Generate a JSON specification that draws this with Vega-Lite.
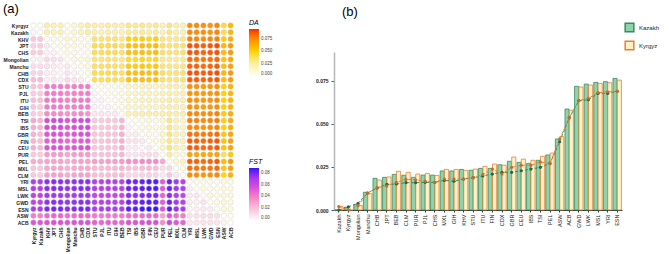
{
  "$schema": "https://vega.github.io/schema/vega-lite/v6.json",
  "background": "white",
  "padding": {"left": 3, "top": 3, "right": 0, "bottom": 0},
  "config": {
    "font": "Liberation Sans",
    "view": {"stroke": null},
    "axis": {"grid": false}
  },
  "datasets": {
    "m": [
      {"r":"Kyrgyz","c":"Kyrgyz","d":0},{"r":"Kyrgyz","c":"Kazakh","d":0.0021},{"r":"Kyrgyz","c":"KHV","d":0.0231},{"r":"Kyrgyz","c":"JPT","d":0.0192},{"r":"Kyrgyz","c":"CHS","d":0.0201},{"r":"Kyrgyz","c":"Mongolian","d":0.0027},{"r":"Kyrgyz","c":"Manchu","d":0.0095},{"r":"Kyrgyz","c":"CHB","d":0.0174},{"r":"Kyrgyz","c":"CDX","d":0.026},{"r":"Kyrgyz","c":"STU","d":0.0238},{"r":"Kyrgyz","c":"PJL","d":0.0213},{"r":"Kyrgyz","c":"ITU","d":0.0254},{"r":"Kyrgyz","c":"GIH","d":0.0236},{"r":"Kyrgyz","c":"BEB","d":0.0225},{"r":"Kyrgyz","c":"TSI","d":0.0312},{"r":"Kyrgyz","c":"IBS","d":0.0289},{"r":"Kyrgyz","c":"GBR","d":0.0308},{"r":"Kyrgyz","c":"FIN","d":0.0267},{"r":"Kyrgyz","c":"CEU","d":0.0296},{"r":"Kyrgyz","c":"PUR","d":0.0209},{"r":"Kyrgyz","c":"PEL","d":0.0331},{"r":"Kyrgyz","c":"MXL","d":0.0236},{"r":"Kyrgyz","c":"CLM","d":0.0219},{"r":"Kyrgyz","c":"YRI","d":0.074},{"r":"Kyrgyz","c":"MSL","d":0.0736},{"r":"Kyrgyz","c":"LWK","d":0.0726},{"r":"Kyrgyz","c":"GWD","d":0.0715},{"r":"Kyrgyz","c":"ESN","d":0.0755},{"r":"Kyrgyz","c":"ASW","d":0.0426},{"r":"Kyrgyz","c":"ACB","d":0.058},

      {"r":"Kazakh","c":"Kyrgyz","f":0.0018},{"r":"Kazakh","c":"Kazakh","d":0},{"r":"Kazakh","c":"KHV","d":0.0236},{"r":"Kazakh","c":"JPT","d":0.019},{"r":"Kazakh","c":"CHS","d":0.0203},{"r":"Kazakh","c":"Mongolian","d":0.0031},{"r":"Kazakh","c":"Manchu","d":0.0103},{"r":"Kazakh","c":"CHB","d":0.0184},{"r":"Kazakh","c":"CDX","d":0.0263},{"r":"Kazakh","c":"STU","d":0.0231},{"r":"Kazakh","c":"PJL","d":0.0203},{"r":"Kazakh","c":"ITU","d":0.0242},{"r":"Kazakh","c":"GIH","d":0.0227},{"r":"Kazakh","c":"BEB","d":0.0207},{"r":"Kazakh","c":"TSI","d":0.0289},{"r":"Kazakh","c":"IBS","d":0.0271},{"r":"Kazakh","c":"GBR","d":0.0283},{"r":"Kazakh","c":"FIN","d":0.0242},{"r":"Kazakh","c":"CEU","d":0.0277},{"r":"Kazakh","c":"PUR","d":0.019},{"r":"Kazakh","c":"PEL","d":0.032},{"r":"Kazakh","c":"MXL","d":0.0227},{"r":"Kazakh","c":"CLM","d":0.0202},{"r":"Kazakh","c":"YRI","d":0.0746},{"r":"Kazakh","c":"MSL","d":0.0742},{"r":"Kazakh","c":"LWK","d":0.0732},{"r":"Kazakh","c":"GWD","d":0.0719},{"r":"Kazakh","c":"ESN","d":0.0765},{"r":"Kazakh","c":"ASW","d":0.0413},{"r":"Kazakh","c":"ACB","d":0.0587},

      {"r":"KHV","c":"Kyrgyz","f":0.018},{"r":"KHV","c":"Kazakh","f":0.018},{"r":"KHV","c":"KHV","d":0},{"r":"KHV","c":"JPT","d":0.0062},{"r":"KHV","c":"CHS","d":0.0041},{"r":"KHV","c":"Mongolian","d":0.0118},{"r":"KHV","c":"Manchu","d":0.0083},{"r":"KHV","c":"CHB","d":0.0039},{"r":"KHV","c":"CDX","d":0.0032},{"r":"KHV","c":"STU","d":0.0352},{"r":"KHV","c":"PJL","d":0.0347},{"r":"KHV","c":"ITU","d":0.0361},{"r":"KHV","c":"GIH","d":0.0356},{"r":"KHV","c":"BEB","d":0.0318},{"r":"KHV","c":"TSI","d":0.0482},{"r":"KHV","c":"IBS","d":0.0476},{"r":"KHV","c":"GBR","d":0.0497},{"r":"KHV","c":"FIN","d":0.0465},{"r":"KHV","c":"CEU","d":0.0491},{"r":"KHV","c":"PUR","d":0.0322},{"r":"KHV","c":"PEL","d":0.0305},{"r":"KHV","c":"MXL","d":0.0298},{"r":"KHV","c":"CLM","d":0.0311},{"r":"KHV","c":"YRI","d":0.0768},{"r":"KHV","c":"MSL","d":0.0761},{"r":"KHV","c":"LWK","d":0.0742},{"r":"KHV","c":"GWD","d":0.0755},{"r":"KHV","c":"ESN","d":0.0779},{"r":"KHV","c":"ASW","d":0.0512},{"r":"KHV","c":"ACB","d":0.0624},

      {"r":"JPT","c":"Kyrgyz","f":0.0139},{"r":"JPT","c":"Kazakh","f":0.0149},{"r":"JPT","c":"KHV","f":0.0061},{"r":"JPT","c":"JPT","d":0},{"r":"JPT","c":"CHS","d":0.0035},{"r":"JPT","c":"Mongolian","d":0.0092},{"r":"JPT","c":"Manchu","d":0.0052},{"r":"JPT","c":"CHB","d":0.0038},{"r":"JPT","c":"CDX","d":0.0071},{"r":"JPT","c":"STU","d":0.0412},{"r":"JPT","c":"PJL","d":0.0405},{"r":"JPT","c":"ITU","d":0.0421},{"r":"JPT","c":"GIH","d":0.0415},{"r":"JPT","c":"BEB","d":0.0372},{"r":"JPT","c":"TSI","d":0.0558},{"r":"JPT","c":"IBS","d":0.0551},{"r":"JPT","c":"GBR","d":0.0573},{"r":"JPT","c":"FIN","d":0.0542},{"r":"JPT","c":"CEU","d":0.0566},{"r":"JPT","c":"PUR","d":0.0384},{"r":"JPT","c":"PEL","d":0.0356},{"r":"JPT","c":"MXL","d":0.0352},{"r":"JPT","c":"CLM","d":0.0368},{"r":"JPT","c":"YRI","d":0.0882},{"r":"JPT","c":"MSL","d":0.0875},{"r":"JPT","c":"LWK","d":0.0851},{"r":"JPT","c":"GWD","d":0.0868},{"r":"JPT","c":"ESN","d":0.0893},{"r":"JPT","c":"ASW","d":0.0585},{"r":"JPT","c":"ACB","d":0.0702},

      {"r":"CHS","c":"Kyrgyz","f":0.0161},{"r":"CHS","c":"Kazakh","f":0.0161},{"r":"CHS","c":"KHV","f":0.0042},{"r":"CHS","c":"JPT","f":0.0036},{"r":"CHS","c":"CHS","d":0},{"r":"CHS","c":"Mongolian","d":0.0081},{"r":"CHS","c":"Manchu","d":0.0033},{"r":"CHS","c":"CHB","d":0.0011},{"r":"CHS","c":"CDX","d":0.0045},{"r":"CHS","c":"STU","d":0.0405},{"r":"CHS","c":"PJL","d":0.0398},{"r":"CHS","c":"ITU","d":0.0414},{"r":"CHS","c":"GIH","d":0.0408},{"r":"CHS","c":"BEB","d":0.0365},{"r":"CHS","c":"TSI","d":0.0549},{"r":"CHS","c":"IBS","d":0.0542},{"r":"CHS","c":"GBR","d":0.0565},{"r":"CHS","c":"FIN","d":0.0531},{"r":"CHS","c":"CEU","d":0.0557},{"r":"CHS","c":"PUR","d":0.0377},{"r":"CHS","c":"PEL","d":0.0349},{"r":"CHS","c":"MXL","d":0.0345},{"r":"CHS","c":"CLM","d":0.0361},{"r":"CHS","c":"YRI","d":0.0874},{"r":"CHS","c":"MSL","d":0.0867},{"r":"CHS","c":"LWK","d":0.0843},{"r":"CHS","c":"GWD","d":0.086},{"r":"CHS","c":"ESN","d":0.0886},{"r":"CHS","c":"ASW","d":0.0578},{"r":"CHS","c":"ACB","d":0.0694},

      {"r":"Mongolian","c":"Kyrgyz","f":0.0025},{"r":"Mongolian","c":"Kazakh","f":0.0039},{"r":"Mongolian","c":"KHV","f":0.0121},{"r":"Mongolian","c":"JPT","f":0.0094},{"r":"Mongolian","c":"CHS","f":0.0083},{"r":"Mongolian","c":"Mongolian","d":0},{"r":"Mongolian","c":"Manchu","d":0.0062},{"r":"Mongolian","c":"CHB","d":0.0079},{"r":"Mongolian","c":"CDX","d":0.0118},{"r":"Mongolian","c":"STU","d":0.0335},{"r":"Mongolian","c":"PJL","d":0.0327},{"r":"Mongolian","c":"ITU","d":0.0341},{"r":"Mongolian","c":"GIH","d":0.0334},{"r":"Mongolian","c":"BEB","d":0.0301},{"r":"Mongolian","c":"TSI","d":0.0448},{"r":"Mongolian","c":"IBS","d":0.0441},{"r":"Mongolian","c":"GBR","d":0.0462},{"r":"Mongolian","c":"FIN","d":0.0428},{"r":"Mongolian","c":"CEU","d":0.0455},{"r":"Mongolian","c":"PUR","d":0.0305},{"r":"Mongolian","c":"PEL","d":0.0282},{"r":"Mongolian","c":"MXL","d":0.0277},{"r":"Mongolian","c":"CLM","d":0.029},{"r":"Mongolian","c":"YRI","d":0.0822},{"r":"Mongolian","c":"MSL","d":0.0815},{"r":"Mongolian","c":"LWK","d":0.0791},{"r":"Mongolian","c":"GWD","d":0.0808},{"r":"Mongolian","c":"ESN","d":0.0834},{"r":"Mongolian","c":"ASW","d":0.0535},{"r":"Mongolian","c":"ACB","d":0.0648},

      {"r":"Manchu","c":"Kyrgyz","f":0.0099},{"r":"Manchu","c":"Kazakh","f":0.0099},{"r":"Manchu","c":"KHV","f":0.0085},{"r":"Manchu","c":"JPT","f":0.0054},{"r":"Manchu","c":"CHS","f":0.0034},{"r":"Manchu","c":"Mongolian","f":0.0063},{"r":"Manchu","c":"Manchu","d":0},{"r":"Manchu","c":"CHB","d":0.0031},{"r":"Manchu","c":"CDX","d":0.0082},{"r":"Manchu","c":"STU","d":0.0378},{"r":"Manchu","c":"PJL","d":0.0371},{"r":"Manchu","c":"ITU","d":0.0386},{"r":"Manchu","c":"GIH","d":0.0379},{"r":"Manchu","c":"BEB","d":0.0342},{"r":"Manchu","c":"TSI","d":0.0505},{"r":"Manchu","c":"IBS","d":0.0498},{"r":"Manchu","c":"GBR","d":0.0521},{"r":"Manchu","c":"FIN","d":0.0487},{"r":"Manchu","c":"CEU","d":0.0512},{"r":"Manchu","c":"PUR","d":0.0345},{"r":"Manchu","c":"PEL","d":0.0318},{"r":"Manchu","c":"MXL","d":0.0314},{"r":"Manchu","c":"CLM","d":0.0329},{"r":"Manchu","c":"YRI","d":0.0851},{"r":"Manchu","c":"MSL","d":0.0844},{"r":"Manchu","c":"LWK","d":0.082},{"r":"Manchu","c":"GWD","d":0.0837},{"r":"Manchu","c":"ESN","d":0.0863},{"r":"Manchu","c":"ASW","d":0.0556},{"r":"Manchu","c":"ACB","d":0.0671},

      {"r":"CHB","c":"Kyrgyz","f":0.013},{"r":"CHB","c":"Kazakh","f":0.0128},{"r":"CHB","c":"KHV","f":0.004},{"r":"CHB","c":"JPT","f":0.0039},{"r":"CHB","c":"CHS","f":0.0012},{"r":"CHB","c":"Mongolian","f":0.008},{"r":"CHB","c":"Manchu","f":0.0032},{"r":"CHB","c":"CHB","d":0},{"r":"CHB","c":"CDX","d":0.0049},{"r":"CHB","c":"STU","d":0.0414},{"r":"CHB","c":"PJL","d":0.0407},{"r":"CHB","c":"ITU","d":0.0423},{"r":"CHB","c":"GIH","d":0.0417},{"r":"CHB","c":"BEB","d":0.0374},{"r":"CHB","c":"TSI","d":0.0561},{"r":"CHB","c":"IBS","d":0.0554},{"r":"CHB","c":"GBR","d":0.0576},{"r":"CHB","c":"FIN","d":0.0545},{"r":"CHB","c":"CEU","d":0.0569},{"r":"CHB","c":"PUR","d":0.0386},{"r":"CHB","c":"PEL","d":0.0358},{"r":"CHB","c":"MXL","d":0.0354},{"r":"CHB","c":"CLM","d":0.037},{"r":"CHB","c":"YRI","d":0.0885},{"r":"CHB","c":"MSL","d":0.0878},{"r":"CHB","c":"LWK","d":0.0854},{"r":"CHB","c":"GWD","d":0.0871},{"r":"CHB","c":"ESN","d":0.0896},{"r":"CHB","c":"ASW","d":0.0587},{"r":"CHB","c":"ACB","d":0.0704},

      {"r":"CDX","c":"Kyrgyz","f":0.0209},{"r":"CDX","c":"Kazakh","f":0.0219},{"r":"CDX","c":"KHV","f":0.0033},{"r":"CDX","c":"JPT","f":0.0072},{"r":"CDX","c":"CHS","f":0.0046},{"r":"CDX","c":"Mongolian","f":0.012},{"r":"CDX","c":"Manchu","f":0.0083},{"r":"CDX","c":"CHB","f":0.005},{"r":"CDX","c":"CDX","d":0},{"r":"CDX","c":"STU","d":0.0401},{"r":"CDX","c":"PJL","d":0.0394},{"r":"CDX","c":"ITU","d":0.041},{"r":"CDX","c":"GIH","d":0.0404},{"r":"CDX","c":"BEB","d":0.0355},{"r":"CDX","c":"TSI","d":0.0546},{"r":"CDX","c":"IBS","d":0.0539},{"r":"CDX","c":"GBR","d":0.0562},{"r":"CDX","c":"FIN","d":0.0529},{"r":"CDX","c":"CEU","d":0.0554},{"r":"CDX","c":"PUR","d":0.0375},{"r":"CDX","c":"PEL","d":0.0351},{"r":"CDX","c":"MXL","d":0.0346},{"r":"CDX","c":"CLM","d":0.036},{"r":"CDX","c":"YRI","d":0.0866},{"r":"CDX","c":"MSL","d":0.0859},{"r":"CDX","c":"LWK","d":0.0834},{"r":"CDX","c":"GWD","d":0.0851},{"r":"CDX","c":"ESN","d":0.0878},{"r":"CDX","c":"ASW","d":0.0571},{"r":"CDX","c":"ACB","d":0.0688},

      {"r":"STU","c":"Kyrgyz","f":0.0188},{"r":"STU","c":"Kazakh","f":0.0188},{"r":"STU","c":"KHV","f":0.0412},{"r":"STU","c":"JPT","f":0.0418},{"r":"STU","c":"CHS","f":0.0415},{"r":"STU","c":"Mongolian","f":0.0385},{"r":"STU","c":"Manchu","f":0.0402},{"r":"STU","c":"CHB","f":0.0416},{"r":"STU","c":"CDX","f":0.0409},{"r":"STU","c":"STU","d":0},{"r":"STU","c":"PJL","d":0.0021},{"r":"STU","c":"ITU","d":0.0018},{"r":"STU","c":"GIH","d":0.0024},{"r":"STU","c":"BEB","d":0.0062},{"r":"STU","c":"TSI","d":0.0148},{"r":"STU","c":"IBS","d":0.0152},{"r":"STU","c":"GBR","d":0.0165},{"r":"STU","c":"FIN","d":0.0172},{"r":"STU","c":"CEU","d":0.0161},{"r":"STU","c":"PUR","d":0.0198},{"r":"STU","c":"PEL","d":0.0248},{"r":"STU","c":"MXL","d":0.0221},{"r":"STU","c":"CLM","d":0.0212},{"r":"STU","c":"YRI","d":0.0725},{"r":"STU","c":"MSL","d":0.0718},{"r":"STU","c":"LWK","d":0.0695},{"r":"STU","c":"GWD","d":0.0711},{"r":"STU","c":"ESN","d":0.0736},{"r":"STU","c":"ASW","d":0.0488},{"r":"STU","c":"ACB","d":0.0602},

      {"r":"PJL","c":"Kyrgyz","f":0.0168},{"r":"PJL","c":"Kazakh","f":0.0161},{"r":"PJL","c":"KHV","f":0.0405},{"r":"PJL","c":"JPT","f":0.0411},{"r":"PJL","c":"CHS","f":0.0408},{"r":"PJL","c":"Mongolian","f":0.0378},{"r":"PJL","c":"Manchu","f":0.0395},{"r":"PJL","c":"CHB","f":0.0409},{"r":"PJL","c":"CDX","f":0.0402},{"r":"PJL","c":"STU","f":0.0022},{"r":"PJL","c":"PJL","d":0},{"r":"PJL","c":"ITU","d":0.0025},{"r":"PJL","c":"GIH","d":0.0019},{"r":"PJL","c":"BEB","d":0.0068},{"r":"PJL","c":"TSI","d":0.0139},{"r":"PJL","c":"IBS","d":0.0143},{"r":"PJL","c":"GBR","d":0.0156},{"r":"PJL","c":"FIN","d":0.0164},{"r":"PJL","c":"CEU","d":0.0152},{"r":"PJL","c":"PUR","d":0.019},{"r":"PJL","c":"PEL","d":0.024},{"r":"PJL","c":"MXL","d":0.0213},{"r":"PJL","c":"CLM","d":0.0204},{"r":"PJL","c":"YRI","d":0.0718},{"r":"PJL","c":"MSL","d":0.0711},{"r":"PJL","c":"LWK","d":0.0688},{"r":"PJL","c":"GWD","d":0.0704},{"r":"PJL","c":"ESN","d":0.0729},{"r":"PJL","c":"ASW","d":0.0481},{"r":"PJL","c":"ACB","d":0.0595},

      {"r":"ITU","c":"Kyrgyz","f":0.0207},{"r":"ITU","c":"Kazakh","f":0.0198},{"r":"ITU","c":"KHV","f":0.0419},{"r":"ITU","c":"JPT","f":0.0425},{"r":"ITU","c":"CHS","f":0.0422},{"r":"ITU","c":"Mongolian","f":0.0392},{"r":"ITU","c":"Manchu","f":0.0409},{"r":"ITU","c":"CHB","f":0.0423},{"r":"ITU","c":"CDX","f":0.0414},{"r":"ITU","c":"STU","f":0.0019},{"r":"ITU","c":"PJL","f":0.0026},{"r":"ITU","c":"ITU","d":0},{"r":"ITU","c":"GIH","d":0.0022},{"r":"ITU","c":"BEB","d":0.0058},{"r":"ITU","c":"TSI","d":0.0156},{"r":"ITU","c":"IBS","d":0.016},{"r":"ITU","c":"GBR","d":0.0173},{"r":"ITU","c":"FIN","d":0.0181},{"r":"ITU","c":"CEU","d":0.0169},{"r":"ITU","c":"PUR","d":0.0205},{"r":"ITU","c":"PEL","d":0.0256},{"r":"ITU","c":"MXL","d":0.0229},{"r":"ITU","c":"CLM","d":0.022},{"r":"ITU","c":"YRI","d":0.0731},{"r":"ITU","c":"MSL","d":0.0724},{"r":"ITU","c":"LWK","d":0.0701},{"r":"ITU","c":"GWD","d":0.0717},{"r":"ITU","c":"ESN","d":0.0742},{"r":"ITU","c":"ASW","d":0.0494},{"r":"ITU","c":"ACB","d":0.0608},

      {"r":"GIH","c":"Kyrgyz","f":0.018},{"r":"GIH","c":"Kazakh","f":0.0167},{"r":"GIH","c":"KHV","f":0.0414},{"r":"GIH","c":"JPT","f":0.042},{"r":"GIH","c":"CHS","f":0.0417},{"r":"GIH","c":"Mongolian","f":0.0387},{"r":"GIH","c":"Manchu","f":0.0404},{"r":"GIH","c":"CHB","f":0.0418},{"r":"GIH","c":"CDX","f":0.0411},{"r":"GIH","c":"STU","f":0.0025},{"r":"GIH","c":"PJL","f":0.002},{"r":"GIH","c":"ITU","f":0.0023},{"r":"GIH","c":"GIH","d":0},{"r":"GIH","c":"BEB","d":0.0065},{"r":"GIH","c":"TSI","d":0.0145},{"r":"GIH","c":"IBS","d":0.0149},{"r":"GIH","c":"GBR","d":0.0162},{"r":"GIH","c":"FIN","d":0.017},{"r":"GIH","c":"CEU","d":0.0158},{"r":"GIH","c":"PUR","d":0.0195},{"r":"GIH","c":"PEL","d":0.0245},{"r":"GIH","c":"MXL","d":0.0218},{"r":"GIH","c":"CLM","d":0.0209},{"r":"GIH","c":"YRI","d":0.0722},{"r":"GIH","c":"MSL","d":0.0715},{"r":"GIH","c":"LWK","d":0.0692},{"r":"GIH","c":"GWD","d":0.0708},{"r":"GIH","c":"ESN","d":0.0733},{"r":"GIH","c":"ASW","d":0.0485},{"r":"GIH","c":"ACB","d":0.0599},

      {"r":"BEB","c":"Kyrgyz","f":0.0161},{"r":"BEB","c":"Kazakh","f":0.0151},{"r":"BEB","c":"KHV","f":0.0362},{"r":"BEB","c":"JPT","f":0.0371},{"r":"BEB","c":"CHS","f":0.0366},{"r":"BEB","c":"Mongolian","f":0.0341},{"r":"BEB","c":"Manchu","f":0.0356},{"r":"BEB","c":"CHB","f":0.0369},{"r":"BEB","c":"CDX","f":0.0342},{"r":"BEB","c":"STU","f":0.0063},{"r":"BEB","c":"PJL","f":0.0069},{"r":"BEB","c":"ITU","f":0.0059},{"r":"BEB","c":"GIH","f":0.0066},{"r":"BEB","c":"BEB","d":0},{"r":"BEB","c":"TSI","d":0.0212},{"r":"BEB","c":"IBS","d":0.0218},{"r":"BEB","c":"GBR","d":0.0231},{"r":"BEB","c":"FIN","d":0.0236},{"r":"BEB","c":"CEU","d":0.0227},{"r":"BEB","c":"PUR","d":0.0238},{"r":"BEB","c":"PEL","d":0.0262},{"r":"BEB","c":"MXL","d":0.0241},{"r":"BEB","c":"CLM","d":0.0235},{"r":"BEB","c":"YRI","d":0.0758},{"r":"BEB","c":"MSL","d":0.0751},{"r":"BEB","c":"LWK","d":0.0728},{"r":"BEB","c":"GWD","d":0.0744},{"r":"BEB","c":"ESN","d":0.0769},{"r":"BEB","c":"ASW","d":0.0512},{"r":"BEB","c":"ACB","d":0.0625},

      {"r":"TSI","c":"Kyrgyz","f":0.0279},{"r":"TSI","c":"Kazakh","f":0.0248},{"r":"TSI","c":"KHV","f":0.0582},{"r":"TSI","c":"JPT","f":0.0591},{"r":"TSI","c":"CHS","f":0.0587},{"r":"TSI","c":"Mongolian","f":0.0538},{"r":"TSI","c":"Manchu","f":0.0569},{"r":"TSI","c":"CHB","f":0.059},{"r":"TSI","c":"CDX","f":0.0584},{"r":"TSI","c":"STU","f":0.0172},{"r":"TSI","c":"PJL","f":0.0165},{"r":"TSI","c":"ITU","f":0.0178},{"r":"TSI","c":"GIH","f":0.0169},{"r":"TSI","c":"BEB","f":0.0241},{"r":"TSI","c":"TSI","d":0},{"r":"TSI","c":"IBS","d":0.0021},{"r":"TSI","c":"GBR","d":0.0048},{"r":"TSI","c":"FIN","d":0.0085},{"r":"TSI","c":"CEU","d":0.0052},{"r":"TSI","c":"PUR","d":0.0132},{"r":"TSI","c":"PEL","d":0.0318},{"r":"TSI","c":"MXL","d":0.0209},{"r":"TSI","c":"CLM","d":0.0158},{"r":"TSI","c":"YRI","d":0.0772},{"r":"TSI","c":"MSL","d":0.0765},{"r":"TSI","c":"LWK","d":0.0738},{"r":"TSI","c":"GWD","d":0.0758},{"r":"TSI","c":"ESN","d":0.0785},{"r":"TSI","c":"ASW","d":0.0498},{"r":"TSI","c":"ACB","d":0.0628},

      {"r":"IBS","c":"Kyrgyz","f":0.026},{"r":"IBS","c":"Kazakh","f":0.0238},{"r":"IBS","c":"KHV","f":0.0575},{"r":"IBS","c":"JPT","f":0.0584},{"r":"IBS","c":"CHS","f":0.058},{"r":"IBS","c":"Mongolian","f":0.0531},{"r":"IBS","c":"Manchu","f":0.0562},{"r":"IBS","c":"CHB","f":0.0583},{"r":"IBS","c":"CDX","f":0.0577},{"r":"IBS","c":"STU","f":0.0176},{"r":"IBS","c":"PJL","f":0.0169},{"r":"IBS","c":"ITU","f":0.0182},{"r":"IBS","c":"GIH","f":0.0173},{"r":"IBS","c":"BEB","f":0.0245},{"r":"IBS","c":"TSI","f":0.0022},{"r":"IBS","c":"IBS","d":0},{"r":"IBS","c":"GBR","d":0.0051},{"r":"IBS","c":"FIN","d":0.0089},{"r":"IBS","c":"CEU","d":0.0055},{"r":"IBS","c":"PUR","d":0.0125},{"r":"IBS","c":"PEL","d":0.0311},{"r":"IBS","c":"MXL","d":0.0202},{"r":"IBS","c":"CLM","d":0.0151},{"r":"IBS","c":"YRI","d":0.0748},{"r":"IBS","c":"MSL","d":0.0741},{"r":"IBS","c":"LWK","d":0.0715},{"r":"IBS","c":"GWD","d":0.0735},{"r":"IBS","c":"ESN","d":0.0761},{"r":"IBS","c":"ASW","d":0.0482},{"r":"IBS","c":"ACB","d":0.061},

      {"r":"GBR","c":"Kyrgyz","f":0.0248},{"r":"GBR","c":"Kazakh","f":0.0219},{"r":"GBR","c":"KHV","f":0.0545},{"r":"GBR","c":"JPT","f":0.0553},{"r":"GBR","c":"CHS","f":0.055},{"r":"GBR","c":"Mongolian","f":0.0503},{"r":"GBR","c":"Manchu","f":0.0532},{"r":"GBR","c":"CHB","f":0.0552},{"r":"GBR","c":"CDX","f":0.0548},{"r":"GBR","c":"STU","f":0.0188},{"r":"GBR","c":"PJL","f":0.0181},{"r":"GBR","c":"ITU","f":0.0194},{"r":"GBR","c":"GIH","f":0.0185},{"r":"GBR","c":"BEB","f":0.0256},{"r":"GBR","c":"TSI","f":0.0046},{"r":"GBR","c":"IBS","f":0.005},{"r":"GBR","c":"GBR","d":0},{"r":"GBR","c":"FIN","d":0.0062},{"r":"GBR","c":"CEU","d":0.0012},{"r":"GBR","c":"PUR","d":0.0148},{"r":"GBR","c":"PEL","d":0.0336},{"r":"GBR","c":"MXL","d":0.0225},{"r":"GBR","c":"CLM","d":0.0172},{"r":"GBR","c":"YRI","d":0.0815},{"r":"GBR","c":"MSL","d":0.0808},{"r":"GBR","c":"LWK","d":0.0782},{"r":"GBR","c":"GWD","d":0.0801},{"r":"GBR","c":"ESN","d":0.0828},{"r":"GBR","c":"ASW","d":0.0521},{"r":"GBR","c":"ACB","d":0.0652},

      {"r":"FIN","c":"Kyrgyz","f":0.0238},{"r":"FIN","c":"Kazakh","f":0.0209},{"r":"FIN","c":"KHV","f":0.0512},{"r":"FIN","c":"JPT","f":0.0521},{"r":"FIN","c":"CHS","f":0.0518},{"r":"FIN","c":"Mongolian","f":0.0468},{"r":"FIN","c":"Manchu","f":0.0499},{"r":"FIN","c":"CHB","f":0.052},{"r":"FIN","c":"CDX","f":0.0516},{"r":"FIN","c":"STU","f":0.0195},{"r":"FIN","c":"PJL","f":0.0188},{"r":"FIN","c":"ITU","f":0.0201},{"r":"FIN","c":"GIH","f":0.0192},{"r":"FIN","c":"BEB","f":0.0262},{"r":"FIN","c":"TSI","f":0.0082},{"r":"FIN","c":"IBS","f":0.0087},{"r":"FIN","c":"GBR","f":0.0061},{"r":"FIN","c":"FIN","d":0},{"r":"FIN","c":"CEU","d":0.0058},{"r":"FIN","c":"PUR","d":0.0161},{"r":"FIN","c":"PEL","d":0.0325},{"r":"FIN","c":"MXL","d":0.0232},{"r":"FIN","c":"CLM","d":0.0183},{"r":"FIN","c":"YRI","d":0.0862},{"r":"FIN","c":"MSL","d":0.0855},{"r":"FIN","c":"LWK","d":0.0828},{"r":"FIN","c":"GWD","d":0.0848},{"r":"FIN","c":"ESN","d":0.0875},{"r":"FIN","c":"ASW","d":0.0538},{"r":"FIN","c":"ACB","d":0.0671},

      {"r":"CEU","c":"Kyrgyz","f":0.026},{"r":"CEU","c":"Kazakh","f":0.0228},{"r":"CEU","c":"KHV","f":0.0548},{"r":"CEU","c":"JPT","f":0.0556},{"r":"CEU","c":"CHS","f":0.0553},{"r":"CEU","c":"Mongolian","f":0.0506},{"r":"CEU","c":"Manchu","f":0.0535},{"r":"CEU","c":"CHB","f":0.0555},{"r":"CEU","c":"CDX","f":0.0551},{"r":"CEU","c":"STU","f":0.0186},{"r":"CEU","c":"PJL","f":0.0179},{"r":"CEU","c":"ITU","f":0.0192},{"r":"CEU","c":"GIH","f":0.0183},{"r":"CEU","c":"BEB","f":0.0254},{"r":"CEU","c":"TSI","f":0.005},{"r":"CEU","c":"IBS","f":0.0054},{"r":"CEU","c":"GBR","f":0.0013},{"r":"CEU","c":"FIN","f":0.0059},{"r":"CEU","c":"CEU","d":0},{"r":"CEU","c":"PUR","d":0.0152},{"r":"CEU","c":"PEL","d":0.0333},{"r":"CEU","c":"MXL","d":0.0228},{"r":"CEU","c":"CLM","d":0.0175},{"r":"CEU","c":"YRI","d":0.0858},{"r":"CEU","c":"MSL","d":0.0851},{"r":"CEU","c":"LWK","d":0.0824},{"r":"CEU","c":"GWD","d":0.0844},{"r":"CEU","c":"ESN","d":0.0871},{"r":"CEU","c":"ASW","d":0.0536},{"r":"CEU","c":"ACB","d":0.0668},

      {"r":"PUR","c":"Kyrgyz","f":0.0176},{"r":"PUR","c":"Kazakh","f":0.0159},{"r":"PUR","c":"KHV","f":0.0318},{"r":"PUR","c":"JPT","f":0.0325},{"r":"PUR","c":"CHS","f":0.0322},{"r":"PUR","c":"Mongolian","f":0.029},{"r":"PUR","c":"Manchu","f":0.0312},{"r":"PUR","c":"CHB","f":0.0324},{"r":"PUR","c":"CDX","f":0.032},{"r":"PUR","c":"STU","f":0.0198},{"r":"PUR","c":"PJL","f":0.0192},{"r":"PUR","c":"ITU","f":0.0203},{"r":"PUR","c":"GIH","f":0.0196},{"r":"PUR","c":"BEB","f":0.0235},{"r":"PUR","c":"TSI","f":0.0082},{"r":"PUR","c":"IBS","f":0.0075},{"r":"PUR","c":"GBR","f":0.0094},{"r":"PUR","c":"FIN","f":0.0108},{"r":"PUR","c":"CEU","f":0.0097},{"r":"PUR","c":"PUR","d":0},{"r":"PUR","c":"PEL","d":0.0262},{"r":"PUR","c":"MXL","d":0.0105},{"r":"PUR","c":"CLM","d":0.0068},{"r":"PUR","c":"YRI","d":0.0662},{"r":"PUR","c":"MSL","d":0.0655},{"r":"PUR","c":"LWK","d":0.0634},{"r":"PUR","c":"GWD","d":0.065},{"r":"PUR","c":"ESN","d":0.0672},{"r":"PUR","c":"ASW","d":0.0388},{"r":"PUR","c":"ACB","d":0.0512},

      {"r":"PEL","c":"Kyrgyz","f":0.0271},{"r":"PEL","c":"Kazakh","f":0.0271},{"r":"PEL","c":"KHV","f":0.0295},{"r":"PEL","c":"JPT","f":0.0302},{"r":"PEL","c":"CHS","f":0.0299},{"r":"PEL","c":"Mongolian","f":0.0268},{"r":"PEL","c":"Manchu","f":0.0289},{"r":"PEL","c":"CHB","f":0.0301},{"r":"PEL","c":"CDX","f":0.0297},{"r":"PEL","c":"STU","f":0.0312},{"r":"PEL","c":"PJL","f":0.0305},{"r":"PEL","c":"ITU","f":0.0318},{"r":"PEL","c":"GIH","f":0.0309},{"r":"PEL","c":"BEB","f":0.0321},{"r":"PEL","c":"TSI","f":0.0361},{"r":"PEL","c":"IBS","f":0.0356},{"r":"PEL","c":"GBR","f":0.0372},{"r":"PEL","c":"FIN","f":0.0365},{"r":"PEL","c":"CEU","f":0.0369},{"r":"PEL","c":"PUR","f":0.0285},{"r":"PEL","c":"PEL","d":0},{"r":"PEL","c":"MXL","d":0.0118},{"r":"PEL","c":"CLM","d":0.0182},{"r":"PEL","c":"YRI","d":0.0855},{"r":"PEL","c":"MSL","d":0.0848},{"r":"PEL","c":"LWK","d":0.0822},{"r":"PEL","c":"GWD","d":0.0841},{"r":"PEL","c":"ESN","d":0.0868},{"r":"PEL","c":"ASW","d":0.0565},{"r":"PEL","c":"ACB","d":0.0698},

      {"r":"MXL","c":"Kyrgyz","f":0.018},{"r":"MXL","c":"Kazakh","f":0.0172},{"r":"MXL","c":"KHV","f":0.0276},{"r":"MXL","c":"JPT","f":0.0283},{"r":"MXL","c":"CHS","f":0.028},{"r":"MXL","c":"Mongolian","f":0.025},{"r":"MXL","c":"Manchu","f":0.027},{"r":"MXL","c":"CHB","f":0.0282},{"r":"MXL","c":"CDX","f":0.0278},{"r":"MXL","c":"STU","f":0.0225},{"r":"MXL","c":"PJL","f":0.0218},{"r":"MXL","c":"ITU","f":0.0231},{"r":"MXL","c":"GIH","f":0.0222},{"r":"MXL","c":"BEB","f":0.0245},{"r":"MXL","c":"TSI","f":0.0198},{"r":"MXL","c":"IBS","f":0.0192},{"r":"MXL","c":"GBR","f":0.0208},{"r":"MXL","c":"FIN","f":0.0215},{"r":"MXL","c":"CEU","f":0.0204},{"r":"MXL","c":"PUR","f":0.0102},{"r":"MXL","c":"PEL","f":0.0121},{"r":"MXL","c":"MXL","d":0},{"r":"MXL","c":"CLM","d":0.0072},{"r":"MXL","c":"YRI","d":0.0815},{"r":"MXL","c":"MSL","d":0.0808},{"r":"MXL","c":"LWK","d":0.0783},{"r":"MXL","c":"GWD","d":0.0801},{"r":"MXL","c":"ESN","d":0.0828},{"r":"MXL","c":"ASW","d":0.0528},{"r":"MXL","c":"ACB","d":0.0656},

      {"r":"CLM","c":"Kyrgyz","f":0.0178},{"r":"CLM","c":"Kazakh","f":0.0159},{"r":"CLM","c":"KHV","f":0.0301},{"r":"CLM","c":"JPT","f":0.0308},{"r":"CLM","c":"CHS","f":0.0305},{"r":"CLM","c":"Mongolian","f":0.0274},{"r":"CLM","c":"Manchu","f":0.0295},{"r":"CLM","c":"CHB","f":0.0307},{"r":"CLM","c":"CDX","f":0.0303},{"r":"CLM","c":"STU","f":0.0208},{"r":"CLM","c":"PJL","f":0.0201},{"r":"CLM","c":"ITU","f":0.0214},{"r":"CLM","c":"GIH","f":0.0205},{"r":"CLM","c":"BEB","f":0.0232},{"r":"CLM","c":"TSI","f":0.0128},{"r":"CLM","c":"IBS","f":0.0121},{"r":"CLM","c":"GBR","f":0.0138},{"r":"CLM","c":"FIN","f":0.0149},{"r":"CLM","c":"CEU","f":0.0134},{"r":"CLM","c":"PUR","f":0.0065},{"r":"CLM","c":"PEL","f":0.0179},{"r":"CLM","c":"MXL","f":0.0069},{"r":"CLM","c":"CLM","d":0},{"r":"CLM","c":"YRI","d":0.0742},{"r":"CLM","c":"MSL","d":0.0735},{"r":"CLM","c":"LWK","d":0.0712},{"r":"CLM","c":"GWD","d":0.0729},{"r":"CLM","c":"ESN","d":0.0754},{"r":"CLM","c":"ASW","d":0.0472},{"r":"CLM","c":"ACB","d":0.0598},

      {"r":"YRI","c":"Kyrgyz","f":0.0687},{"r":"YRI","c":"Kazakh","f":0.0678},{"r":"YRI","c":"KHV","f":0.0762},{"r":"YRI","c":"JPT","f":0.0771},{"r":"YRI","c":"CHS","f":0.0768},{"r":"YRI","c":"Mongolian","f":0.0738},{"r":"YRI","c":"Manchu","f":0.0755},{"r":"YRI","c":"CHB","f":0.077},{"r":"YRI","c":"CDX","f":0.0765},{"r":"YRI","c":"STU","f":0.0668},{"r":"YRI","c":"PJL","f":0.0662},{"r":"YRI","c":"ITU","f":0.0675},{"r":"YRI","c":"GIH","f":0.0666},{"r":"YRI","c":"BEB","f":0.0652},{"r":"YRI","c":"TSI","f":0.0815},{"r":"YRI","c":"IBS","f":0.0808},{"r":"YRI","c":"GBR","f":0.0832},{"r":"YRI","c":"FIN","f":0.0851},{"r":"YRI","c":"CEU","f":0.0845},{"r":"YRI","c":"PUR","f":0.0512},{"r":"YRI","c":"PEL","f":0.0818},{"r":"YRI","c":"MXL","f":0.0712},{"r":"YRI","c":"CLM","f":0.0668},{"r":"YRI","c":"YRI","d":0},{"r":"YRI","c":"MSL","d":0.0035},{"r":"YRI","c":"LWK","d":0.0052},{"r":"YRI","c":"GWD","d":0.0038},{"r":"YRI","c":"ESN","d":0.0012},{"r":"YRI","c":"ASW","d":0.0082},{"r":"YRI","c":"ACB","d":0.0061},

      {"r":"MSL","c":"Kyrgyz","f":0.0682},{"r":"MSL","c":"Kazakh","f":0.0678},{"r":"MSL","c":"KHV","f":0.0768},{"r":"MSL","c":"JPT","f":0.0778},{"r":"MSL","c":"CHS","f":0.0775},{"r":"MSL","c":"Mongolian","f":0.0745},{"r":"MSL","c":"Manchu","f":0.0762},{"r":"MSL","c":"CHB","f":0.0777},{"r":"MSL","c":"CDX","f":0.0772},{"r":"MSL","c":"STU","f":0.0675},{"r":"MSL","c":"PJL","f":0.0669},{"r":"MSL","c":"ITU","f":0.0682},{"r":"MSL","c":"GIH","f":0.0673},{"r":"MSL","c":"BEB","f":0.0659},{"r":"MSL","c":"TSI","f":0.0822},{"r":"MSL","c":"IBS","f":0.0815},{"r":"MSL","c":"GBR","f":0.0839},{"r":"MSL","c":"FIN","f":0.0858},{"r":"MSL","c":"CEU","f":0.0852},{"r":"MSL","c":"PUR","f":0.0518},{"r":"MSL","c":"PEL","f":0.0825},{"r":"MSL","c":"MXL","f":0.0719},{"r":"MSL","c":"CLM","f":0.0675},{"r":"MSL","c":"YRI","f":0.0036},{"r":"MSL","c":"MSL","d":0},{"r":"MSL","c":"LWK","d":0.0071},{"r":"MSL","c":"GWD","d":0.0029},{"r":"MSL","c":"ESN","d":0.0041},{"r":"MSL","c":"ASW","d":0.0096},{"r":"MSL","c":"ACB","d":0.0075},

      {"r":"LWK","c":"Kyrgyz","f":0.0649},{"r":"LWK","c":"Kazakh","f":0.0641},{"r":"LWK","c":"KHV","f":0.0712},{"r":"LWK","c":"JPT","f":0.0721},{"r":"LWK","c":"CHS","f":0.0718},{"r":"LWK","c":"Mongolian","f":0.0689},{"r":"LWK","c":"Manchu","f":0.0705},{"r":"LWK","c":"CHB","f":0.072},{"r":"LWK","c":"CDX","f":0.0714},{"r":"LWK","c":"STU","f":0.0618},{"r":"LWK","c":"PJL","f":0.0612},{"r":"LWK","c":"ITU","f":0.0625},{"r":"LWK","c":"GIH","f":0.0616},{"r":"LWK","c":"BEB","f":0.0605},{"r":"LWK","c":"TSI","f":0.0762},{"r":"LWK","c":"IBS","f":0.0755},{"r":"LWK","c":"GBR","f":0.0778},{"r":"LWK","c":"FIN","f":0.0795},{"r":"LWK","c":"CEU","f":0.0789},{"r":"LWK","c":"PUR","f":0.0485},{"r":"LWK","c":"PEL","f":0.0772},{"r":"LWK","c":"MXL","f":0.0668},{"r":"LWK","c":"CLM","f":0.0628},{"r":"LWK","c":"YRI","f":0.0053},{"r":"LWK","c":"MSL","f":0.0072},{"r":"LWK","c":"LWK","d":0},{"r":"LWK","c":"GWD","d":0.0078},{"r":"LWK","c":"ESN","d":0.0064},{"r":"LWK","c":"ASW","d":0.0101},{"r":"LWK","c":"ACB","d":0.0085},

      {"r":"GWD","c":"Kyrgyz","f":0.0637},{"r":"GWD","c":"Kazakh","f":0.0635},{"r":"GWD","c":"KHV","f":0.0758},{"r":"GWD","c":"JPT","f":0.0767},{"r":"GWD","c":"CHS","f":0.0764},{"r":"GWD","c":"Mongolian","f":0.0735},{"r":"GWD","c":"Manchu","f":0.0751},{"r":"GWD","c":"CHB","f":0.0766},{"r":"GWD","c":"CDX","f":0.0761},{"r":"GWD","c":"STU","f":0.0665},{"r":"GWD","c":"PJL","f":0.0659},{"r":"GWD","c":"ITU","f":0.0672},{"r":"GWD","c":"GIH","f":0.0663},{"r":"GWD","c":"BEB","f":0.065},{"r":"GWD","c":"TSI","f":0.0811},{"r":"GWD","c":"IBS","f":0.0804},{"r":"GWD","c":"GBR","f":0.0828},{"r":"GWD","c":"FIN","f":0.0846},{"r":"GWD","c":"CEU","f":0.084},{"r":"GWD","c":"PUR","f":0.0508},{"r":"GWD","c":"PEL","f":0.0815},{"r":"GWD","c":"MXL","f":0.0708},{"r":"GWD","c":"CLM","f":0.0665},{"r":"GWD","c":"YRI","f":0.0039},{"r":"GWD","c":"MSL","f":0.003},{"r":"GWD","c":"LWK","f":0.0079},{"r":"GWD","c":"GWD","d":0},{"r":"GWD","c":"ESN","d":0.0048},{"r":"GWD","c":"ASW","d":0.0104},{"r":"GWD","c":"ACB","d":0.0083},

      {"r":"ESN","c":"Kyrgyz","f":0.069},{"r":"ESN","c":"Kazakh","f":0.069},{"r":"ESN","c":"KHV","f":0.0792},{"r":"ESN","c":"JPT","f":0.0802},{"r":"ESN","c":"CHS","f":0.0799},{"r":"ESN","c":"Mongolian","f":0.0768},{"r":"ESN","c":"Manchu","f":0.0785},{"r":"ESN","c":"CHB","f":0.0801},{"r":"ESN","c":"CDX","f":0.0796},{"r":"ESN","c":"STU","f":0.0695},{"r":"ESN","c":"PJL","f":0.0689},{"r":"ESN","c":"ITU","f":0.0702},{"r":"ESN","c":"GIH","f":0.0693},{"r":"ESN","c":"BEB","f":0.0679},{"r":"ESN","c":"TSI","f":0.0848},{"r":"ESN","c":"IBS","f":0.0841},{"r":"ESN","c":"GBR","f":0.0865},{"r":"ESN","c":"FIN","f":0.0885},{"r":"ESN","c":"CEU","f":0.0878},{"r":"ESN","c":"PUR","f":0.0531},{"r":"ESN","c":"PEL","f":0.0849},{"r":"ESN","c":"MXL","f":0.0741},{"r":"ESN","c":"CLM","f":0.0695},{"r":"ESN","c":"YRI","f":0.0013},{"r":"ESN","c":"MSL","f":0.0042},{"r":"ESN","c":"LWK","f":0.0065},{"r":"ESN","c":"GWD","f":0.0049},{"r":"ESN","c":"ESN","d":0},{"r":"ESN","c":"ASW","d":0.0088},{"r":"ESN","c":"ACB","d":0.0068},

      {"r":"ASW","c":"Kyrgyz","f":0.0413},{"r":"ASW","c":"Kazakh","f":0.0397},{"r":"ASW","c":"KHV","f":0.0468},{"r":"ASW","c":"JPT","f":0.0476},{"r":"ASW","c":"CHS","f":0.0473},{"r":"ASW","c":"Mongolian","f":0.0448},{"r":"ASW","c":"Manchu","f":0.0462},{"r":"ASW","c":"CHB","f":0.0475},{"r":"ASW","c":"CDX","f":0.0471},{"r":"ASW","c":"STU","f":0.0421},{"r":"ASW","c":"PJL","f":0.0416},{"r":"ASW","c":"ITU","f":0.0427},{"r":"ASW","c":"GIH","f":0.0419},{"r":"ASW","c":"BEB","f":0.0412},{"r":"ASW","c":"TSI","f":0.0452},{"r":"ASW","c":"IBS","f":0.0446},{"r":"ASW","c":"GBR","f":0.0462},{"r":"ASW","c":"FIN","f":0.0478},{"r":"ASW","c":"CEU","f":0.0472},{"r":"ASW","c":"PUR","f":0.0302},{"r":"ASW","c":"PEL","f":0.0521},{"r":"ASW","c":"MXL","f":0.0448},{"r":"ASW","c":"CLM","f":0.0412},{"r":"ASW","c":"YRI","f":0.0081},{"r":"ASW","c":"MSL","f":0.0095},{"r":"ASW","c":"LWK","f":0.0102},{"r":"ASW","c":"GWD","f":0.0105},{"r":"ASW","c":"ESN","f":0.0089},{"r":"ASW","c":"ASW","d":0},{"r":"ASW","c":"ACB","d":0.0024},

      {"r":"ACB","c":"Kyrgyz","f":0.0536},{"r":"ACB","c":"Kazakh","f":0.0536},{"r":"ACB","c":"KHV","f":0.0548},{"r":"ACB","c":"JPT","f":0.0557},{"r":"ACB","c":"CHS","f":0.0554},{"r":"ACB","c":"Mongolian","f":0.0527},{"r":"ACB","c":"Manchu","f":0.0542},{"r":"ACB","c":"CHB","f":0.0556},{"r":"ACB","c":"CDX","f":0.0551},{"r":"ACB","c":"STU","f":0.0492},{"r":"ACB","c":"PJL","f":0.0486},{"r":"ACB","c":"ITU","f":0.0498},{"r":"ACB","c":"GIH","f":0.0489},{"r":"ACB","c":"BEB","f":0.0481},{"r":"ACB","c":"TSI","f":0.0538},{"r":"ACB","c":"IBS","f":0.0531},{"r":"ACB","c":"GBR","f":0.0549},{"r":"ACB","c":"FIN","f":0.0565},{"r":"ACB","c":"CEU","f":0.0559},{"r":"ACB","c":"PUR","f":0.0355},{"r":"ACB","c":"PEL","f":0.0602},{"r":"ACB","c":"MXL","f":0.0521},{"r":"ACB","c":"CLM","f":0.0482},{"r":"ACB","c":"YRI","f":0.0062},{"r":"ACB","c":"MSL","f":0.0076},{"r":"ACB","c":"LWK","f":0.0086},{"r":"ACB","c":"GWD","f":0.0084},{"r":"ACB","c":"ESN","f":0.0069},{"r":"ACB","c":"ASW","f":0.0025},{"r":"ACB","c":"ACB","d":0}
    ],
    "b": [
      {"p":"Kazakh","g":"Kazakh","da":0,"fst":0},
      {"p":"Kyrgyz","g":"Kazakh","da":0.0016,"fst":0.0018},
      {"p":"Mongolian","g":"Kazakh","da":0.0031,"fst":0.0039},
      {"p":"Manchu","g":"Kazakh","da":0.0103,"fst":0.0099},
      {"p":"CHB","g":"Kazakh","da":0.0184,"fst":0.0128},
      {"p":"JPT","g":"Kazakh","da":0.019,"fst":0.0149},
      {"p":"BEB","g":"Kazakh","da":0.0207,"fst":0.0151},
      {"p":"CLM","g":"Kazakh","da":0.0202,"fst":0.0159},
      {"p":"PUR","g":"Kazakh","da":0.019,"fst":0.0159},
      {"p":"PJL","g":"Kazakh","da":0.0203,"fst":0.0161},
      {"p":"CHS","g":"Kazakh","da":0.0203,"fst":0.0161},
      {"p":"MXL","g":"Kazakh","da":0.0227,"fst":0.0172},
      {"p":"GIH","g":"Kazakh","da":0.0227,"fst":0.0167},
      {"p":"KHV","g":"Kazakh","da":0.0236,"fst":0.018},
      {"p":"STU","g":"Kazakh","da":0.0231,"fst":0.0188},
      {"p":"ITU","g":"Kazakh","da":0.0242,"fst":0.0198},
      {"p":"FIN","g":"Kazakh","da":0.0242,"fst":0.0209},
      {"p":"CDX","g":"Kazakh","da":0.0263,"fst":0.0219},
      {"p":"GBR","g":"Kazakh","da":0.0283,"fst":0.0219},
      {"p":"CEU","g":"Kazakh","da":0.0277,"fst":0.0228},
      {"p":"IBS","g":"Kazakh","da":0.0271,"fst":0.0238},
      {"p":"TSI","g":"Kazakh","da":0.0289,"fst":0.0248},
      {"p":"PEL","g":"Kazakh","da":0.032,"fst":0.0271},
      {"p":"ASW","g":"Kazakh","da":0.0413,"fst":0.0397},
      {"p":"ACB","g":"Kazakh","da":0.0587,"fst":0.0536},
      {"p":"GWD","g":"Kazakh","da":0.0719,"fst":0.0635},
      {"p":"LWK","g":"Kazakh","da":0.0732,"fst":0.0641},
      {"p":"MSL","g":"Kazakh","da":0.0742,"fst":0.0678},
      {"p":"YRI","g":"Kazakh","da":0.0746,"fst":0.0678},
      {"p":"ESN","g":"Kazakh","da":0.0765,"fst":0.069},
      {"p":"Kazakh","g":"Kyrgyz","da":0.0021,"fst":0.002},
      {"p":"Kyrgyz","g":"Kyrgyz","da":0,"fst":0},
      {"p":"Mongolian","g":"Kyrgyz","da":0.0027,"fst":0.0025},
      {"p":"Manchu","g":"Kyrgyz","da":0.0095,"fst":0.0099},
      {"p":"CHB","g":"Kyrgyz","da":0.0174,"fst":0.013},
      {"p":"JPT","g":"Kyrgyz","da":0.0192,"fst":0.0139},
      {"p":"BEB","g":"Kyrgyz","da":0.0225,"fst":0.0161},
      {"p":"CLM","g":"Kyrgyz","da":0.0219,"fst":0.0178},
      {"p":"PUR","g":"Kyrgyz","da":0.0209,"fst":0.0176},
      {"p":"PJL","g":"Kyrgyz","da":0.0213,"fst":0.0168},
      {"p":"CHS","g":"Kyrgyz","da":0.0201,"fst":0.0161},
      {"p":"MXL","g":"Kyrgyz","da":0.0236,"fst":0.018},
      {"p":"GIH","g":"Kyrgyz","da":0.0236,"fst":0.018},
      {"p":"KHV","g":"Kyrgyz","da":0.0231,"fst":0.018},
      {"p":"STU","g":"Kyrgyz","da":0.0238,"fst":0.0188},
      {"p":"ITU","g":"Kyrgyz","da":0.0254,"fst":0.0207},
      {"p":"FIN","g":"Kyrgyz","da":0.0267,"fst":0.0238},
      {"p":"CDX","g":"Kyrgyz","da":0.026,"fst":0.0209},
      {"p":"GBR","g":"Kyrgyz","da":0.0308,"fst":0.0248},
      {"p":"CEU","g":"Kyrgyz","da":0.0296,"fst":0.026},
      {"p":"IBS","g":"Kyrgyz","da":0.0289,"fst":0.026},
      {"p":"TSI","g":"Kyrgyz","da":0.0312,"fst":0.0279},
      {"p":"PEL","g":"Kyrgyz","da":0.0331,"fst":0.0271},
      {"p":"ASW","g":"Kyrgyz","da":0.0426,"fst":0.0413},
      {"p":"ACB","g":"Kyrgyz","da":0.058,"fst":0.0536},
      {"p":"GWD","g":"Kyrgyz","da":0.0715,"fst":0.0637},
      {"p":"LWK","g":"Kyrgyz","da":0.0726,"fst":0.0649},
      {"p":"MSL","g":"Kyrgyz","da":0.0736,"fst":0.0682},
      {"p":"YRI","g":"Kyrgyz","da":0.074,"fst":0.0687},
      {"p":"ESN","g":"Kyrgyz","da":0.0755,"fst":0.069}
    ]
  },
  "hconcat": [
    {
      "width": 204,
      "height": 204,
      "title": {"text": "(a)", "anchor": "start", "frame": "bounds", "fontSize": 13, "fontWeight": "normal", "offset": 3},
      "data": {"name": "m"},
      "encoding": {
        "x": {
          "field": "c", "type": "nominal",
          "sort": ["Kyrgyz","Kazakh","KHV","JPT","CHS","Mongolian","Manchu","CHB","CDX","STU","PJL","ITU","GIH","BEB","TSI","IBS","GBR","FIN","CEU","PUR","PEL","MXL","CLM","YRI","MSL","LWK","GWD","ESN","ASW","ACB"],
          "axis": {"title": null, "orient": "bottom", "labelAngle": -90, "labelFontSize": 5, "labelFontWeight": "bold", "labelColor": "#222", "ticks": false, "domain": false, "labelPadding": 1}
        },
        "y": {
          "field": "r", "type": "nominal",
          "sort": ["Kyrgyz","Kazakh","KHV","JPT","CHS","Mongolian","Manchu","CHB","CDX","STU","PJL","ITU","GIH","BEB","TSI","IBS","GBR","FIN","CEU","PUR","PEL","MXL","CLM","YRI","MSL","LWK","GWD","ESN","ASW","ACB"],
          "axis": {"title": null, "labelFontSize": 5, "labelFontWeight": "bold", "labelColor": "#222", "ticks": false, "domain": false, "labelPadding": 2}
        }
      },
      "layer": [
        {
          "transform": [{"filter": "datum.d != null"}],
          "mark": {"type": "circle", "size": 30, "opacity": 1, "stroke": "#c9c9c9", "strokeWidth": 0.4},
          "encoding": {
            "fill": {
              "field": "d", "type": "quantitative",
              "scale": {"domain": [0, 0.0235, 0.047, 0.0705, 0.094], "range": ["#fffef4", "#fff0a6", "#ffd700", "#ff9800", "#ff2200"]},
              "legend": {"title": "DA", "orient": "none", "legendX": 219, "legendY": -3, "direction": "vertical", "gradientLength": 47, "gradientThickness": 10, "gradientStrokeWidth": 0, "values": [0, 0.025, 0.05, 0.075], "format": ".3f", "labelFontSize": 4.5, "labelColor": "#444", "labelOverlap": false, "titleFontSize": 7, "titleFontStyle": "italic", "titleFontWeight": "normal", "titlePadding": 3}
            }
          }
        },
        {
          "transform": [{"filter": "datum.f != null"}],
          "mark": {"type": "circle", "size": 30, "opacity": 1, "stroke": "#c9c9c9", "strokeWidth": 0.4},
          "encoding": {
            "fill": {
              "field": "f", "type": "quantitative",
              "scale": {"domain": [0, 0.0177, 0.0354, 0.0531, 0.0708, 0.0885], "range": ["#fffafc", "#fcc6dc", "#f78ec8", "#df55d6", "#a43cf0", "#2418ff"]},
              "legend": {"title": "FST", "orient": "none", "legendX": 219, "legendY": 136, "direction": "vertical", "gradientLength": 52, "gradientThickness": 10, "gradientStrokeWidth": 0, "values": [0, 0.02, 0.04, 0.06, 0.08], "format": ".2f", "labelFontSize": 4.5, "labelColor": "#444", "labelOverlap": false, "titleFontSize": 7, "titleFontStyle": "italic", "titleFontWeight": "normal", "titlePadding": 3}
            }
          }
        }
      ],
      "resolve": {"scale": {"fill": "independent"}, "legend": {"fill": "independent"}}
    },
    {
      "width": 288,
      "height": 188,
      "title": {"text": "(b)", "anchor": "start", "frame": "group", "fontSize": 13, "fontWeight": "normal", "offset": 3, "dx": 8},
      "data": {"name": "b"},
      "encoding": {
        "x": {
          "field": "p", "type": "nominal",
          "sort": ["Kazakh","Kyrgyz","Mongolian","Manchu","CHB","JPT","BEB","CLM","PUR","PJL","CHS","MXL","GIH","KHV","STU","ITU","FIN","CDX","GBR","CEU","IBS","TSI","PEL","ASW","ACB","GWD","LWK","MSL","YRI","ESN"],
          "scale": {"paddingInner": 0.12, "paddingOuter": 0.06},
          "axis": {"title": null, "labelAngle": -90, "labelFontSize": 5.5, "labelColor": "#222", "tickSize": 2, "tickColor": "#333", "domainColor": "#333", "labelPadding": 2}
        }
      },
      "layer": [
        {
          "mark": {"type": "bar", "strokeWidth": 0.8},
          "encoding": {
            "xOffset": {"field": "g", "type": "nominal", "scale": {"paddingInner": 0.05}},
            "y": {
              "field": "da", "type": "quantitative",
              "scale": {"domain": [0, 0.1093], "nice": false},
              "axis": {"title": null, "values": [0, 0.025, 0.05, 0.075], "format": ".3f", "labelFontSize": 5, "labelFontWeight": "bold", "labelColor": "#222", "tickSize": 3, "tickColor": "#555", "domainColor": "#b5b5b5", "domainWidth": 1.5, "domainDash": [158, 400], "labelPadding": 3}
            },
            "fill": {
              "field": "g", "type": "nominal",
              "scale": {"domain": ["Kazakh", "Kyrgyz"], "range": ["#8fd3aa", "#fff0c6"]},
              "legend": {"title": null, "orient": "none", "legendX": 290, "legendY": 0, "symbolType": "square", "symbolSize": 75, "labelFontSize": 6, "labelColor": "#222", "rowPadding": 3}
            },
            "stroke": {
              "field": "g", "type": "nominal",
              "scale": {"domain": ["Kazakh", "Kyrgyz"], "range": ["#3a8a60", "#e0823e"]},
              "legend": {"title": null, "orient": "none", "legendX": 290, "legendY": 0, "symbolType": "square", "symbolSize": 75, "labelFontSize": 6, "labelColor": "#222", "rowPadding": 3}
            }
          }
        },
        {
          "mark": {"type": "line", "strokeDash": [3, 2], "strokeWidth": 1},
          "encoding": {
            "y": {"field": "fst", "type": "quantitative", "scale": {"domain": [0, 0.1093], "nice": false}, "axis": {"title": null}},
            "stroke": {"field": "g", "type": "nominal", "scale": {"domain": ["Kazakh", "Kyrgyz"], "range": ["#3a8a60", "#e0823e"]}}
          }
        },
        {
          "mark": {"type": "point", "filled": true, "size": 10, "opacity": 1},
          "encoding": {
            "y": {"field": "fst", "type": "quantitative", "scale": {"domain": [0, 0.1093], "nice": false}, "axis": {"title": null}},
            "color": {"field": "g", "type": "nominal", "scale": {"domain": ["Kazakh", "Kyrgyz"], "range": ["#25674a", "#d2691e"]}, "legend": null}
          }
        }
      ]
    }
  ],
  "spacing": 42,
  "resolve": {
    "scale": {"fill": "independent", "stroke": "independent", "color": "independent"},
    "legend": {"fill": "independent", "stroke": "independent", "color": "independent"}
  }
}
